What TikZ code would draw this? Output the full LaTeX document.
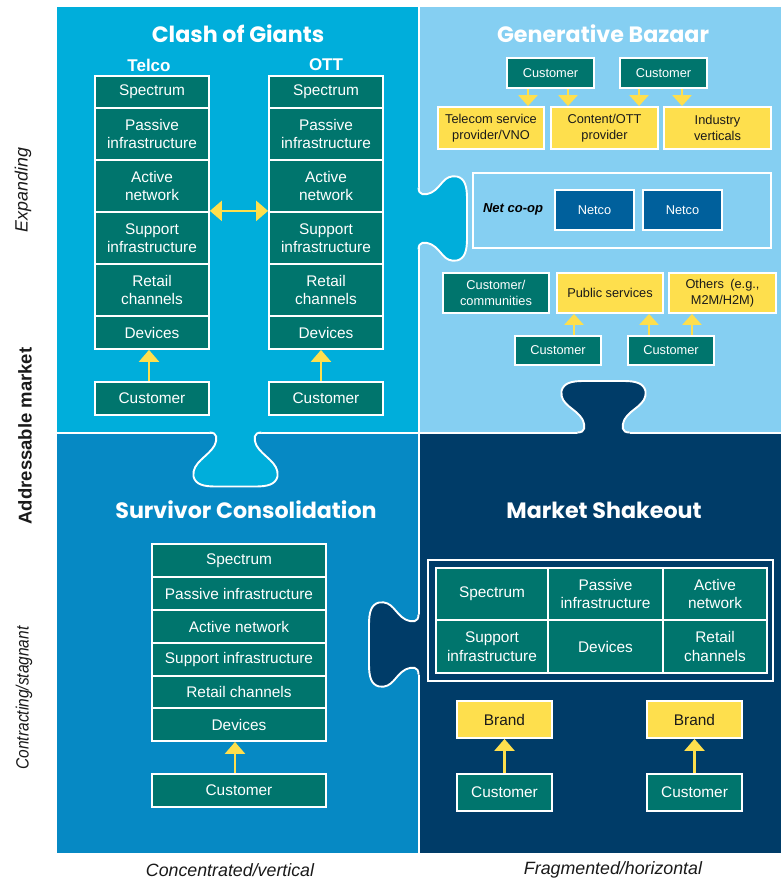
\documentclass[tikz,border=0pt]{standalone}
\usepackage{graphicx}
\usepackage{fontspec}
\setmainfont{Liberation Sans}
\newfontfamily\titlefont{Poppins}
\usetikzlibrary{arrows.meta,calc}

\definecolor{cTL}{HTML}{00AEDB}
\definecolor{cTR}{HTML}{85CFF2}
\definecolor{cBL}{HTML}{0689C4}
\definecolor{cBR}{HTML}{003C68}
\definecolor{cTeal}{HTML}{00756D}
\definecolor{cYel}{HTML}{FEDF4D}
\definecolor{cNet}{HTML}{00609C}
\definecolor{cInk}{HTML}{1A1A1A}

\newcommand\fbig{\fontsize{15.4}{18.5}\selectfont}
\newcommand\fsml{\fontsize{12.8}{16.5}\selectfont}

% outline of one puzzle tab in local frame: base on y=0, tab towards +y
% #1 neck half width, #2 depth
\newcommand\tabline[2]{(-#1-8,0) .. controls (-#1,0) and (-#1,6) .. (-#1-3,13)
      .. controls (-#1-9,24) and (-44,#2-24) .. (-42,#2-10)
      .. controls (-40,#2-2) and (-32,#2) .. (-20,#2)
      -- (20,#2) .. controls (32,#2) and (40,#2-2) .. (42,#2-10)
      .. controls (44,#2-24) and (#1+9,24) .. (#1+3,13)
      .. controls (#1,6) and (#1,0) .. (#1+8,0)}
% puzzle tab: #1 colour, #2 x, #3 y (base centre), #4 rotation, #5 neck half width, #6 depth
\newcommand\ptab[6]{%
  \begin{scope}[shift={(#2,#3)}, rotate=#4]
    \fill[#1] (-#5-8,-1.6) -- \tabline{#5}{#6} -- (#5+8,-1.6) -- cycle;
    \draw[white, line width=1.9pt] \tabline{#5}{#6};
  \end{scope}}

\tikzset{
  box/.style={draw=white, line width=1.8pt, inner sep=0pt, align=center},
  tealbox/.style={box, fill=cTeal, text=white, font=\fbig},
  tealsm/.style={box, fill=cTeal, text=white, font=\fsml},
  yelbox/.style={box, fill=cYel, text=cInk, font=\fbig},
  yelsm/.style={box, fill=cYel, text=cInk, font=\fsml},
  netbox/.style={box, fill=cNet, text=white, font=\fsml},
  frame/.style={draw=white, line width=2.3pt, inner sep=0pt, fill=none},
  title/.style={text=white, font=\titlefont\bfseries\fontsize{22.2}{25}\selectfont},
  colhead/.style={text=white, font=\bfseries\fontsize{17}{20}\selectfont},
  axislab/.style={text=cInk, font=\itshape\fontsize{17.8}{20}\selectfont},
  axisbold/.style={text=cInk, font=\bfseries\fontsize{18.5}{21}\selectfont},
  yarr/.style={draw=cYel, line width=2.5pt, -{Triangle[width=20pt,length=12pt]}},
  yarrs/.style={draw=cYel, line width=2.5pt, -{Triangle[width=19pt,length=11pt]}},
  ydarr/.style={draw=cYel, line width=2.5pt, {Triangle[width=20pt,length=12pt]}-{Triangle[width=20pt,length=12pt]}},
}

\begin{document}
\begin{tikzpicture}[x=1pt,y=-1pt]
\useasboundingbox (0,0) rectangle (781,882);
\fill[white] (0,0) rectangle (781,882);

% panels
\fill[cTL] (57,7) rectangle (417.5,431.5);
\fill[cTR] (419.5,7) rectangle (781,431.5);
\fill[cBL] (57,433.5) rectangle (417.5,853);
\fill[cBR] (419.5,433.5) rectangle (781,853);

% puzzle tabs
\ptab{cTL}{235.5}{432.5}{0}{18}{54}
\ptab{cTL}{418.5}{218.5}{90}{23}{48.5}
\ptab{cBR}{603.5}{432.5}{180}{18}{51.5}
\ptab{cBR}{418.5}{644.5}{270}{22}{49.5}

% axis labels
\node[axislab, rotate=90] (lexp) at (23,190) {Expanding};
\node[axisbold, rotate=90] (ladd) at (25,436) {Addressable market};
\node[axislab, rotate=90] (lcon) at (24,698) {\scalebox{0.87}[1]{Contracting/stagnant}};
\node[axislab] (lconc) at (230,870) {Concentrated/vertical};
\node[axislab] (lfrag) at (613,870) {Fragmented/horizontal};

% ---------- Clash of Giants ----------
\node[title] (tcg) at (238,34) {Clash of Giants};
\node[colhead] (htel) at (149,65) {Telco};
\node[colhead] (hott) at (326,65) {OTT};

\node[tealbox, minimum width=114pt, minimum height=32pt] (ts) at (152,92) {Spectrum};
\node[tealbox, minimum width=114pt, minimum height=52pt] (tp) at (152,134) {Passive\\infrastructure};
\node[tealbox, minimum width=114pt, minimum height=52pt] (ta) at (152,186) {Active\\network};
\node[tealbox, minimum width=114pt, minimum height=52pt] (tu) at (152,238) {Support\\infrastructure};
\node[tealbox, minimum width=114pt, minimum height=52pt] (tr) at (152,290) {Retail\\channels};
\node[tealbox, minimum width=114pt, minimum height=33pt] (td) at (152,332.5) {Devices};
\node[tealbox, minimum width=114pt, minimum height=33pt] (tc) at (152,398.5) {Customer};

\node[tealbox, minimum width=114pt, minimum height=32pt] (os) at (326,92) {Spectrum};
\node[tealbox, minimum width=114pt, minimum height=52pt] (op) at (326,134) {Passive\\infrastructure};
\node[tealbox, minimum width=114pt, minimum height=52pt] (oa) at (326,186) {Active\\network};
\node[tealbox, minimum width=114pt, minimum height=52pt] (ou) at (326,238) {Support\\infrastructure};
\node[tealbox, minimum width=114pt, minimum height=52pt] (or) at (326,290) {Retail\\channels};
\node[tealbox, minimum width=114pt, minimum height=33pt] (od) at (326,332.5) {Devices};
\node[tealbox, minimum width=114pt, minimum height=33pt] (oc) at (326,398.5) {Customer};

\draw[yarr] ([xshift=-3pt]tc.north) -- ([xshift=-3pt]td.south);
\draw[yarr] ([xshift=-5pt]oc.north) -- ([xshift=-5pt]od.south);
\draw[ydarr] ([yshift=2pt]ta.south east) -- ([yshift=2pt]oa.south west);

% ---------- Generative Bazaar ----------
\node[title] (tgb) at (603,34) {Generative Bazaar};
\node[tealsm, minimum width=87pt, minimum height=30pt] (gc1) at (550.5,73) {Customer};
\node[tealsm, minimum width=87pt, minimum height=30pt] (gc2) at (663.5,73) {Customer};
\node[yelsm, minimum width=106pt, minimum height=42pt] (gya) at (491,128) {Telecom service\\provider/VNO};
\node[yelsm, minimum width=107pt, minimum height=42pt] (gyb) at (604.5,128) {Content/OTT\\provider};
\node[yelsm, minimum width=107pt, minimum height=42pt] (gyc) at (717.5,128) {Industry\\verticals};

\coordinate (xa) at (528,0);
\coordinate (xb) at (568,0);
\coordinate (xc) at (639,0);
\coordinate (xd) at (682,0);
\draw[yarrs] (gc1.south -| xa) -- (gya.north -| xa);
\draw[yarrs] (gc1.south -| xb) -- (gyb.north -| xb);
\draw[yarrs] (gc2.south -| xc) -- (gyb.north -| xc);
\draw[yarrs] (gc2.south -| xd) -- (gyc.north -| xd);

\node[frame, minimum width=298pt, minimum height=75pt] (coop) at (622,210.5) {};
\node[text=black, font=\bfseries\itshape\fontsize{13}{15}\selectfont] (coopl) at (513,209) {Net co-op};
\node[netbox, minimum width=79pt, minimum height=40pt] (nc1) at (594.5,210) {Netco};
\node[netbox, minimum width=79pt, minimum height=40pt] (nc2) at (682.5,210) {Netco};

\node[tealsm, minimum width=106pt, minimum height=40pt] (gcc) at (496,293) {Customer/\\communities};
\node[yelsm, minimum width=106pt, minimum height=40pt] (gps) at (610,293) {Public services};
\node[yelsm, minimum width=107pt, minimum height=40pt] (got) at (722.5,293) {Others\enspace(e.g.,\\M2M/H2M)};
\node[tealsm, minimum width=86pt, minimum height=29pt] (gb1) at (558,350.5) {Customer};
\node[tealsm, minimum width=86pt, minimum height=29pt] (gb2) at (671,350.5) {Customer};

\coordinate (xe) at (574,0);
\coordinate (xf) at (649,0);
\coordinate (xg) at (692,0);
\draw[yarrs] (gb1.north -| xe) -- (gps.south -| xe);
\draw[yarrs] (gb2.north -| xf) -- (gps.south -| xf);
\draw[yarrs] (gb2.north -| xg) -- (got.south -| xg);

% ---------- Survivor Consolidation ----------
\node[title] (tsc) at (246,510) {Survivor Consolidation};
\node[tealbox, minimum width=174pt, minimum height=33pt] (ss) at (239,560.5) {Spectrum};
\node[tealbox, minimum width=174pt, minimum height=33pt] (sp) at (239,593.5) {Passive infrastructure};
\node[tealbox, minimum width=174pt, minimum height=33pt] (sa) at (239,626.5) {Active network};
\node[tealbox, minimum width=174pt, minimum height=33pt] (su) at (239,659.5) {Support infrastructure};
\node[tealbox, minimum width=174pt, minimum height=32pt] (sr) at (239,692) {Retail channels};
\node[tealbox, minimum width=174pt, minimum height=33pt] (sd) at (239,724.5) {Devices};
\node[tealbox, minimum width=174pt, minimum height=33pt] (sc) at (239,790.5) {Customer};
\draw[yarr] ([xshift=-4pt]sc.north) -- ([xshift=-4pt]sd.south);

% ---------- Market Shakeout ----------
\node[title] (tms) at (604,510) {Market Shakeout};
\node[frame, minimum width=345pt, minimum height=121pt] (mfr) at (600.5,620.5) {};
\node[tealbox, minimum width=112pt, minimum height=52pt] (m1) at (492,594) {Spectrum};
\node[tealbox, minimum width=115pt, minimum height=52pt] (m2) at (605.5,594) {Passive\\infrastructure};
\node[tealbox, minimum width=104pt, minimum height=52pt] (m3) at (715,594) {Active\\network};
\node[tealbox, minimum width=112pt, minimum height=53pt] (m4) at (492,646.5) {Support\\infrastructure};
\node[tealbox, minimum width=115pt, minimum height=53pt] (m5) at (605.5,646.5) {Devices};
\node[tealbox, minimum width=104pt, minimum height=53pt] (m6) at (715,646.5) {Retail\\channels};

\node[yelbox, minimum width=95pt, minimum height=37pt] (mb1) at (504.5,719.5) {Brand};
\node[yelbox, minimum width=95pt, minimum height=37pt] (mb2) at (694.5,719.5) {Brand};
\node[tealbox, minimum width=95pt, minimum height=37pt] (mc1) at (504.5,792.5) {Customer};
\node[tealbox, minimum width=95pt, minimum height=37pt] (mc2) at (694.5,792.5) {Customer};
\draw[yarr] (mc1.north) -- (mb1.south);
\draw[yarr] (mc2.north) -- (mb2.south);
\end{tikzpicture}
\end{document}
